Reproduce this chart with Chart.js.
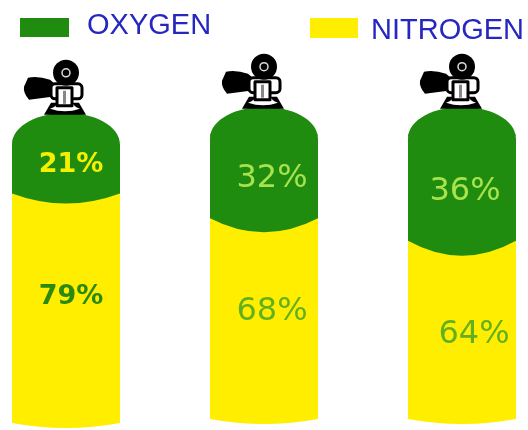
<!DOCTYPE html>
<html>
<head>
<meta charset="utf-8">
<title>Gas mix</title>
<script src="https://cdn.jsdelivr.net/npm/chart.js@4"></script>
<style>
    html, body { margin: 0; padding: 0; background: #fff; overflow: hidden; }
    canvas { display: block; }
</style>
</head>
<body>
<canvas id="tanks" width="528" height="430"></canvas>
<script>
const tanks = ["Air", "Nitrox 32", "Nitrox 36"];
const nitrogen = [79, 68, 64];
const oxygen = [21, 32, 36];

// parts of the drawing that are not data: the tank head above 100% and how far each tank sits up
const head = [9, 9.7, 9.7];
const lift = [0, 1.4, 1.4];

const GREEN = "#1f8c10";
const YELLOW = "#ffee00";
const BLUE = "#2626c0";

// per tank tweaks in pixels
const meniscus = [[-6, 4], [-9, 5], [2, 17]];
const oxygenShiftX = [5, 8, 3];
const nitrogenShiftX = [5, 8, 12];
const oxygenNudge = [-4, -2, 5];
const nitrogenNudge = [-17, -14, 3];
const labelFonts = ["bold 27px 'DejaVu Sans'", "32px 'DejaVu Sans'", "32px 'DejaVu Sans'"];
const oxygenText = ["#f4f000", "#a8e24c", "#a8e24c"];
const nitrogenText = ["#2a8a10", "#62b020", "#62b020"];

function tankPath(ctx, el, baseY) {
    const x = el.x, w = el.width / 2, top = el.y;
    ctx.moveTo(x - w, top + 32);
    ctx.bezierCurveTo(x - w, top + 12, x - 26, top, x, top);
    ctx.bezierCurveTo(x + 26, top, x + w, top + 12, x + w, top + 32);
    ctx.lineTo(x + w, baseY - 5);
    ctx.quadraticCurveTo(x, baseY + 5, x - w, baseY - 5);
    ctx.closePath();
}

function drawValve(ctx, x, top) {
    ctx.save();
    ctx.translate(x, top);
    ctx.fillStyle = "#000";
    ctx.strokeStyle = "#000";
    ctx.lineJoin = "round";

    // neck
    ctx.beginPath();
    ctx.moveTo(-22, 2);
    ctx.lineTo(20, 2);
    ctx.lineTo(13, -10);
    ctx.lineTo(-15, -10);
    ctx.closePath();
    ctx.fill();

    // bell
    ctx.fillStyle = "#fff";
    ctx.beginPath();
    ctx.moveTo(-16, -4);
    ctx.quadraticCurveTo(-1, 1, 14, -4);
    ctx.quadraticCurveTo(7, -6, 6, -12);
    ctx.lineTo(-8, -12);
    ctx.quadraticCurveTo(-9, -6, -16, -4);
    ctx.closePath();
    ctx.fill();

    // hand wheel
    ctx.fillStyle = "#000";
    ctx.beginPath();
    ctx.moveTo(-38, -35);
    ctx.quadraticCurveTo(-28, -37, -16, -33);
    ctx.lineTo(-10, -28);
    ctx.lineTo(-10, -18);
    ctx.lineTo(-14, -16);
    ctx.lineTo(-37, -13);
    ctx.quadraticCurveTo(-43, -20, -42, -26);
    ctx.closePath();
    ctx.fill();

    // body
    ctx.fillStyle = "#fff";
    ctx.lineWidth = 3;
    ctx.beginPath();
    ctx.roundRect(-15, -29, 31, 15, 4);
    ctx.fill();
    ctx.stroke();
    ctx.beginPath();
    ctx.rect(-9, -25, 15, 18);
    ctx.fill();
    ctx.stroke();
    ctx.fillStyle = "#888";
    ctx.fillRect(-3, -22, 3, 13);

    // knob
    ctx.fillStyle = "#000";
    ctx.beginPath();
    ctx.arc(0, -40, 13, 0, Math.PI * 2);
    ctx.fill();
    ctx.strokeStyle = "#ddd";
    ctx.lineWidth = 1.5;
    ctx.beginPath();
    ctx.arc(0, -40, 4, 0, Math.PI * 2);
    ctx.stroke();
    ctx.restore();
}

function drawLegend(chart) {
    const ctx = chart.ctx;
    const items = [
        { set: chart.data.datasets[2], box: [20, 18, 49, 19], textX: 87, textY: 26 },
        { set: chart.data.datasets[1], box: [310, 18, 48, 20], textX: 371, textY: 31 }
    ];
    ctx.save();
    ctx.font = "29px 'Liberation Sans'";
    ctx.textAlign = "left";
    ctx.textBaseline = "middle";
    items.forEach((item) => {
        ctx.fillStyle = item.set.backgroundColor;
        ctx.fillRect(item.box[0], item.box[1], item.box[2], item.box[3]);
        ctx.fillStyle = BLUE;
        ctx.fillText(item.set.label, item.textX, item.textY);
    });
    ctx.restore();
}

const tankPlugin = {
    id: "tankPlugin",
    beforeDatasetsDraw(chart) {
        const ctx = chart.ctx;
        const heads = chart.getDatasetMeta(3).data;
        const gas = chart.getDatasetMeta(1).data;
        ctx.save();
        ctx.beginPath();
        heads.forEach((el, i) => tankPath(ctx, el, gas[i].base));
        ctx.clip();
    },
    afterDatasetsDraw(chart) {
        const ctx = chart.ctx;
        const gas = chart.getDatasetMeta(1).data;
        const o2 = chart.getDatasetMeta(2).data;
        const heads = chart.getDatasetMeta(3).data;

        // curved surface between the two gases
        o2.forEach((el, i) => {
            const yb = el.base, x = el.x, w = el.width / 2;
            const [side, mid] = meniscus[i];
            ctx.fillStyle = YELLOW;
            ctx.fillRect(x - w - 2, yb - 30, w * 2 + 4, 60);
            ctx.fillStyle = GREEN;
            ctx.beginPath();
            ctx.moveTo(x - w - 2, yb - 31);
            ctx.lineTo(x - w - 2, yb + side);
            ctx.lineTo(x - w, yb + side);
            ctx.quadraticCurveTo(x, yb + 2 * mid - side, x + w, yb + side);
            ctx.lineTo(x + w + 2, yb + side);
            ctx.lineTo(x + w + 2, yb - 31);
            ctx.closePath();
            ctx.fill();
        });
        ctx.restore();

        heads.forEach((el) => drawValve(ctx, el.x, el.y));

        ctx.save();
        ctx.textAlign = "center";
        ctx.textBaseline = "middle";
        o2.forEach((el, i) => {
            ctx.font = labelFonts[i];
            ctx.fillStyle = oxygenText[i];
            ctx.fillText(oxygen[i] + "%", el.x + oxygenShiftX[i], (el.y + el.base) / 2 + oxygenNudge[i]);
            ctx.fillStyle = nitrogenText[i];
            ctx.fillText(nitrogen[i] + "%", el.x + nitrogenShiftX[i], (gas[i].y + gas[i].base) / 2 + nitrogenNudge[i]);
        });
        ctx.restore();

        drawLegend(chart);
    }
};

new Chart(document.getElementById("tanks"), {
    type: "bar",
    data: {
        labels: tanks,
        datasets: [
            { label: "lift", data: lift, backgroundColor: "rgba(0,0,0,0)" },
            { label: "NITROGEN", data: nitrogen, backgroundColor: YELLOW },
            { label: "OXYGEN", data: oxygen, backgroundColor: GREEN, inflateAmount: 1 },
            { label: "head", data: head, backgroundColor: GREEN, inflateAmount: 1 }
        ]
    },
    options: {
        responsive: false,
        animation: false,
        layout: { padding: { left: 66, right: 66, top: 107, bottom: 2 } },
        datasets: { bar: { barThickness: 108, clip: false, borderWidth: 0 } },
        plugins: {
            legend: { display: false },
            title: { display: false },
            tooltip: { enabled: false }
        },
        scales: {
            x: { display: false, stacked: true, offset: false },
            y: { display: false, stacked: true, min: 0, max: 111 }
        }
    },
    plugins: [tankPlugin]
});
</script>
</body>
</html>
